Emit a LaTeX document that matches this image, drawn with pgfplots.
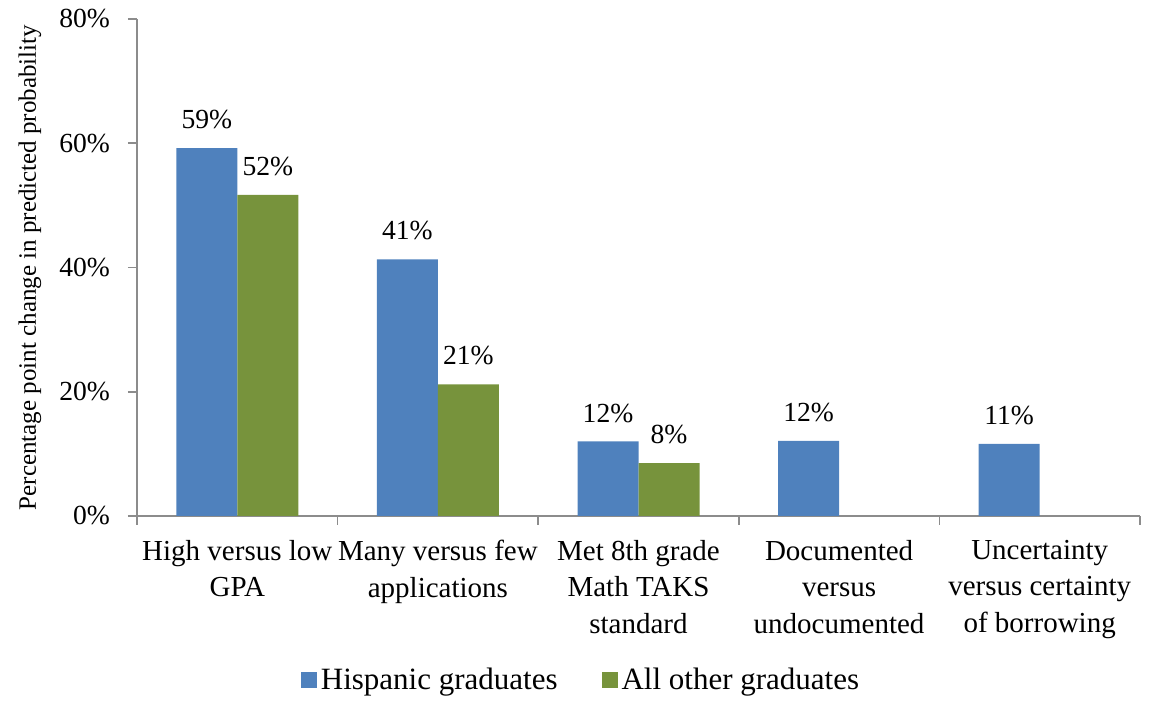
\documentclass[border=0pt]{standalone}
\usepackage{fontspec}
\setmainfont{Liberation Serif}
\usepackage{pgfplots}
\pgfplotsset{compat=1.18}
\definecolor{hisp}{HTML}{4F81BD}
\definecolor{oth}{HTML}{77933C}
\definecolor{axgray}{HTML}{8C8C8C}
\begin{document}
\begin{tikzpicture}
\begin{axis}[
  name=ax,
  scale only axis, width=501.5pt, height=248.5pt,
  ybar=0pt, bar width=30.5pt,
  xmin=-0.5, xmax=4.5, ymin=0, ymax=80,
  axis x line*=bottom, axis y line*=left,
  axis line style={axgray, line width=0.8pt, -},
  tick align=outside, major tick length=4.5pt,
  tick style={axgray, line width=0.8pt},
  /pgf/number format/assume math mode=true,
  ytick={0,20,...,80},
  yticklabel={\pgfmathprintnumber{\tick}\%},
  yticklabel style={font=\rmfamily\fontsize{13.8}{16}\selectfont, xshift=-5.5pt},
  xtick={-0.5,0.5,...,4.5},
  x tick label as interval=true,
  xticklabels={{High versus low\\GPA},{Many versus few\\applications},{Met 8th grade\\Math TAKS\\standard},{Documented\\versus\\undocumented},{Uncertainty\\versus certainty\\of borrowing}},
  xticklabel style={align=center, font=\rmfamily\fontsize{14.5}{18.3}\selectfont, yshift=-4pt},
  ylabel={Percentage point change in predicted probability},
  every axis y label/.style={at={(axis description cs:-0.1067,0.5)}, rotate=90, anchor=center, font=\rmfamily\fontsize{12.5}{15}\selectfont},
  point meta=explicit symbolic,
  nodes near coords,
  nodes near coords style={font=\rmfamily\fontsize{13.8}{16}\selectfont, yshift=6pt},
  legend columns=2,
  legend style={at={(0.4437,-0.33)}, anchor=center, draw=none, fill=none,
    font=\rmfamily\fontsize{15.5}{18}\selectfont,
    /tikz/every even column/.append style={column sep=20pt}},
  legend image code/.code={\fill[#1] (0pt,-4pt) rectangle (8pt,4pt);},
]
\addplot[fill=hisp, draw=none] coordinates {(0,59.2) [59\%] (1,41.3) [41\%] (2,12.0) [12\%] (3,12.1) [12\%] (4,11.6) [11\%]};
\addplot[fill=oth, draw=none] coordinates {(0,51.7) [52\%] (1,21.2) [21\%] (2,8.5) [8\%]};
\legend{Hispanic graduates, All other graduates}
\end{axis}
\pgfresetboundingbox
\path ([shift={(-68.5pt,-99.5pt)}]ax.south west) rectangle ([shift={(8pt,9.5pt)}]ax.north east);
\end{tikzpicture}
\end{document}
